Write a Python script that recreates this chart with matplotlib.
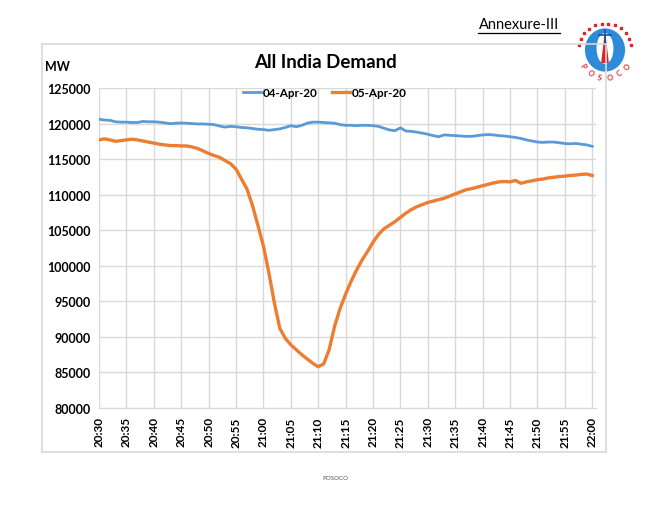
import matplotlib.pyplot as plt
import matplotlib.patches as mpatches
import numpy as np

C_BLUE = "#5B9BD5"
C_ORANGE = "#ED7D31"
C_GRID = "#D9D9D9"

plt.rcParams["font.family"] = ["Lato", "DejaVu Sans"]

# minutes after 20:30, one reading per minute up to 22:00
minutes = list(range(0, 91))
tick_labels = ["20:30", "20:35", "20:40", "20:45", "20:50", "20:55", "21:00",
               "21:05", "21:10", "21:15", "21:20", "21:25", "21:30", "21:35",
               "21:40", "21:45", "21:50", "21:55", "22:00"]

demand_0404 = [
    120600, 120500, 120450, 120250, 120200, 120200, 120150, 120150, 120300, 120250,
    120250, 120200, 120100, 119980, 120050, 120080, 120050, 120000, 119950, 119950,
    119900, 119850, 119650, 119500, 119600, 119550, 119450, 119400, 119300, 119200,
    119150, 119050, 119150, 119250, 119450, 119700, 119550, 119750, 120050, 120200,
    120200, 120150, 120100, 120050, 119850, 119750, 119750, 119700, 119750, 119750,
    119700, 119600, 119350, 119100, 119000, 119400, 118950, 118900, 118800, 118650,
    118500, 118300, 118150, 118400, 118350, 118300, 118250, 118200, 118200, 118300,
    118400, 118450, 118400, 118300, 118250, 118150, 118050, 117900, 117700, 117550,
    117400, 117350, 117400, 117400, 117300, 117200, 117150, 117200, 117100, 117000,
    116800,
]

demand_0504 = [
    117700, 117850, 117700, 117500, 117600, 117700, 117800, 117700, 117550, 117400,
    117250, 117100, 117000, 116900, 116900, 116850, 116850, 116700, 116500, 116150,
    115800, 115500, 115250, 114800, 114350, 113600, 112200, 110800, 108500, 105700,
    102800, 99000, 94800, 91200, 89800, 88900, 88200, 87500, 86900, 86300,
    85800, 86200, 88200, 91500, 94000, 96000, 97800, 99400, 100800, 102000,
    103300, 104400, 105200, 105700, 106200, 106800, 107400, 107900, 108300, 108600,
    108900, 109100, 109300, 109500, 109800, 110100, 110400, 110700, 110850, 111050,
    111250, 111450, 111650, 111800, 111850, 111800, 112000, 111600, 111800, 111950,
    112100, 112200, 112350, 112450, 112550, 112600, 112700, 112750, 112850, 112900,
    112700,
]

fig = plt.figure(figsize=(6.55, 5.06), dpi=100)
W, H = 655, 506

# chart frame
fig.patches.append(mpatches.Rectangle((42 / W, 1 - 453 / H), 564 / W, 408 / H,
                                      transform=fig.transFigure, fill=False,
                                      edgecolor="#D9D9D9", lw=1.2))

ax = fig.add_axes([99 / W, 1 - 409 / H, 497 / W, 320 / H])
ax.plot(minutes, demand_0404, color=C_BLUE, lw=2.0, label="04-Apr-20", zorder=3)
ax.plot(minutes, demand_0504, color=C_ORANGE, lw=2.4, label="05-Apr-20", zorder=3)

ax.set_xlim(0, 90.7)
ax.set_ylim(80000, 125000)
ax.set_xticks(range(0, 91, 5))
ax.set_xticklabels(tick_labels, rotation=90, fontsize=8.5, fontweight="bold")
ax.set_yticks(range(80000, 125001, 5000))
ax.set_yticklabels([str(v) for v in range(80000, 125001, 5000)],
                   fontsize=9, fontweight="bold")
ax.tick_params(length=0, pad=6)
ax.grid(True, color=C_GRID, lw=1.0)
ax.set_axisbelow(True)
for side in ("top", "right", "left"):
    ax.spines[side].set_visible(False)
ax.spines["bottom"].set_color(C_GRID)

ax.legend(loc="upper center", bbox_to_anchor=(0.455, 1.035), ncol=2,
          frameon=False, prop={"weight": "bold", "size": 8.5},
          handlelength=1.5, handletextpad=0.2, columnspacing=1.2)

fig.text(325 / W, 1 - 63 / H, "All India Demand", ha="center", va="center",
         fontsize=13.5, fontweight="bold")
fig.text(57 / W, 1 - 67 / H, "MW", ha="center", va="center",
         fontsize=9, fontweight="bold")
fig.text(519 / W, 1 - 25 / H, "Annexure-III", ha="center", va="center",
         fontsize=10.5)
fig.lines.append(plt.Line2D([478 / W, 560 / W], [1 - 34 / H, 1 - 34 / H],
                            transform=fig.transFigure, color="black", lw=0.9))
fig.text(335 / W, 1 - 479 / H, "POSOCO", ha="center", va="center",
         fontsize=4.5, color="#555555")

# rough POSOCO emblem
lg = fig.add_axes([574 / W, 1 - 86 / H, 62 / W, 70 / H])
lg.set_xlim(-1, 1)
lg.set_ylim(-1.13, 1.13)
lg.set_aspect("equal")
lg.axis("off")
lg.add_patch(mpatches.Ellipse((0, 0.0), 1.25, 1.35, color="#2E8BD8"))
lg.add_patch(mpatches.Ellipse((0, 0.05), 0.5, 0.95, color="white"))
lg.add_patch(mpatches.Polygon([(-0.1, -0.4), (0.1, -0.4), (0, 0.45)],
                              color="#D9252B"))
lg.plot([0, 0], [0.2, 0.65], color="#1F4E9A", lw=1.2)
lg.plot([-0.2, 0.2], [0.5, 0.5], color="#1F4E9A", lw=1.2)
for i, ch in enumerate("POSOCO"):
    ang = np.deg2rad(-145 + i * 22)
    lg.text(0.88 * np.cos(ang), 0.88 * np.sin(ang), ch, ha="center",
            va="center", fontsize=5.5, color="#D9252B", fontweight="bold",
            rotation=np.rad2deg(ang) + 90)
for i in range(12):
    ang = np.deg2rad(170 - i * 14.5)
    lg.plot(0.86 * np.cos(ang), 0.86 * np.sin(ang), marker="s",
            ms=1.8, color="#D9252B")

fig.savefig("out.png", dpi=100, facecolor="white")
